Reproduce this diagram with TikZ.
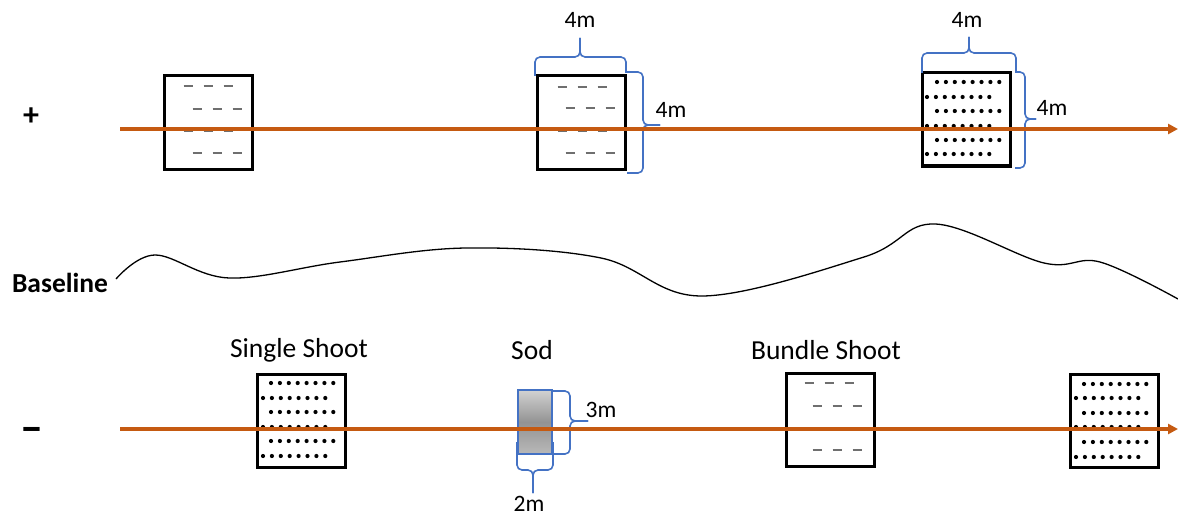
\documentclass[tikz,border=0pt]{standalone}
\usepackage{fontspec}
\setmainfont{Carlito}
\usetikzlibrary{arrows.meta,calc}
\definecolor{orangeline}{HTML}{C55A11}
\definecolor{braceblue}{HTML}{4472C4}
\definecolor{dashgray}{HTML}{6F6F6F}
\newcommand\dashrow[2]{\foreach \k in {0,1,2} \draw[dashmark] ({#1+20*\k-4.5},#2) -- ({#1+20*\k+4.5},#2);}
\newcommand\dotrow[2]{\foreach \k in {0,...,7} \fill ({#1+8.9*\k},#2) circle (2.1pt);}
\tikzset{
 plotbox/.style={draw=black, line width=3pt, fill=white, inner sep=0pt, minimum width=88pt, minimum height=93pt},
 sodbox/.style={draw=braceblue, line width=1.5pt, inner sep=0pt, minimum width=34pt, minimum height=64pt, top color=gray!35, bottom color=gray!55, middle color=gray!85},
 axisline/.style={draw=orangeline, line width=3.5pt, -{Triangle[length=10pt,width=10pt]}},
 bracepath/.style={draw=braceblue, line width=1.6pt, rounded corners=5pt},
 dashmark/.style={draw=dashgray, line width=2.8pt},
 lbl/.style={font=\fontsize{27.5}{32}\selectfont, inner sep=0pt},
 dimlbl/.style={font=\fontsize{23.5}{28}\selectfont, inner sep=0pt},
}
\begin{document}
\begin{tikzpicture}[x=1pt,y=-1pt]
\path[fill=white] (0,0) rectangle (1178,516);
\useasboundingbox (0,0) rectangle (1178,516);

% boxes
\node[plotbox] (tl) at (208,122.5) {};
\node[plotbox] (tm) at (581.5,122.5) {};
\node[plotbox] (tr) at (966,119.5) {};
\node[plotbox] (bl) at (301.5,421) {};
\node[plotbox] (bm) at (830.5,419.5) {};
\node[plotbox] (br) at (1114,421) {};
\node[sodbox] (sod) at (535,422) {};

% dashes
\dashrow{188}{86}\dashrow{197}{109}\dashrow{188}{131}\dashrow{197}{153}
\dashrow{562}{87}\dashrow{570}{108}\dashrow{562}{131}\dashrow{570}{153}
\dashrow{809}{383}\dashrow{817}{406}\dashrow{817}{450}

% dots
\dotrow{937}{82}\dotrow{927}{97}\dotrow{937}{111}\dotrow{927}{126}\dotrow{937}{140}\dotrow{927}{154}
\dotrow{271}{383}\dotrow{263}{398}\dotrow{271}{412}\dotrow{263}{427}\dotrow{271}{441}\dotrow{263}{456}
\dotrow{1084}{384}\dotrow{1076}{398}\dotrow{1084}{413}\dotrow{1076}{427}\dotrow{1084}{442}\dotrow{1076}{457}

% braces
\draw[bracepath] (535,76) -- (535,57) -- (580,57) -- (580,38);
\draw[bracepath] (626,73) -- (626,57) -- (580,57) -- (580,38);
\draw[bracepath] (627,72) -- (643,72) -- (643,125) -- (660,125);
\draw[bracepath] (627,173) -- (643,173) -- (643,125) -- (660,125);
\draw[bracepath] (922,73) -- (922,53) -- (969,53) -- (969,37);
\draw[bracepath] (1016,73) -- (1016,53) -- (969,53) -- (969,37);
\draw[bracepath] (1015,72) -- (1025,72) -- (1025,119) -- (1036,119);
\draw[bracepath] (1015,168) -- (1025,168) -- (1025,119) -- (1036,119);
\draw[bracepath] (553,391) -- (570,391) -- (570,421) -- (588,421);
\draw[bracepath] (553,454) -- (570,454) -- (570,421) -- (588,421);
\draw[bracepath] (517,442) -- (517,470) -- (533,470) -- (533,493);
\draw[bracepath] (553,442) -- (553,470) -- (533,470) -- (533,493);

% labels
\node[dimlbl] (w1) at (580,20) {4m};
\node[dimlbl] (h1) at (671,110) {4m};
\node[dimlbl] (w2) at (967,20) {4m};
\node[dimlbl] (h2) at (1052,108) {4m};
\node[dimlbl] (h3) at (601,410) {3m};
\node[dimlbl] (w3) at (529,504) {2m};
\node[lbl] (ls) at (299,350) {Single Shoot};
\node[lbl] (lsod) at (532,350) {Sod};
\node[lbl] (lb) at (826,350) {Bundle Shoot};
\node[lbl, font=\fontsize{27.5}{32}\selectfont\bfseries] (base) at (60,283) {Baseline};
\node[lbl, font=\fontsize{32}{36}\selectfont\bfseries] (plus) at (31,117) {+};
\node[lbl, anchor=base, font=\fontsize{46}{50}\selectfont\bfseries] (minus) at (32,442) {–};

% baseline curve
\draw[line width=1.3pt] plot[smooth, tension=0.6] coordinates {(116,279) (155,255) (229,278) (340,262) (466,248) (601,258) (702,296) (864,257) (935,224) (1044,263) (1100,262) (1178,299)};

% axis lines
\coordinate (ps) at (120,129);
\coordinate (pe) at (1178,129);
\coordinate (ms) at (120,429);
\coordinate (me) at (1178,429);
\draw[axisline] (ps) -- (pe);
\draw[axisline] (ms) -- (me);
\end{tikzpicture}
\end{document}
